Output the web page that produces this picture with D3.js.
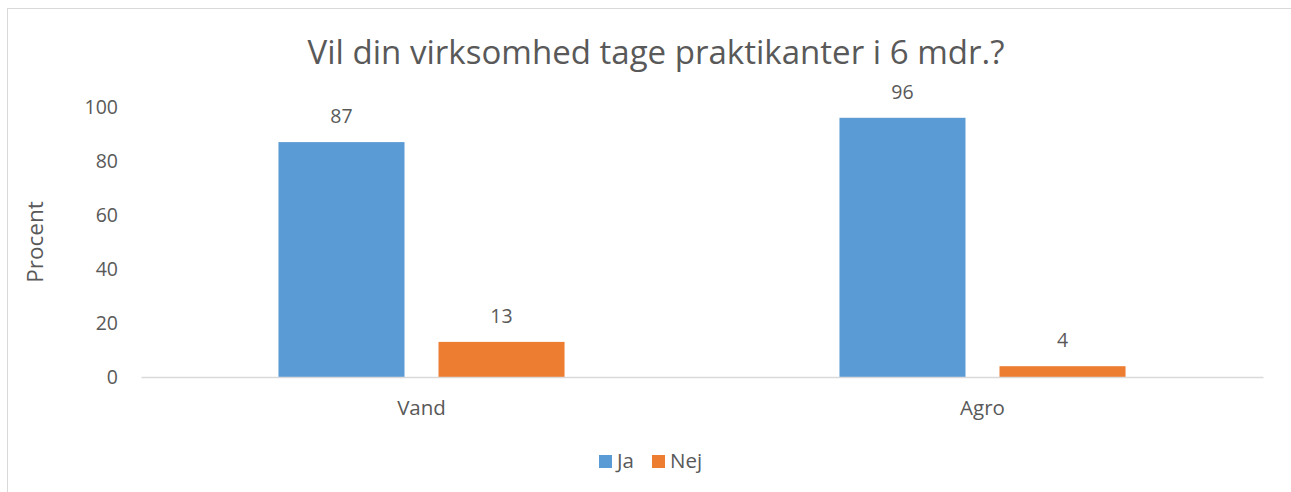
<!DOCTYPE html>
<html>
<head>
<meta charset="utf-8">
<script src="https://cdn.jsdelivr.net/npm/d3@7"></script>
<style>
  html, body { margin: 0; padding: 0; background: #fff; }
  svg { display: block; font-family: "Open Sans", "Noto Sans", sans-serif; }
</style>
</head>
<body>
<svg id="chart" width="1291" height="492"></svg>
<script>
const title = "Vil din virksomhed tage praktikanter i 6 mdr.?";
const yAxisTitle = "Procent";
const categories = ["Vand", "Agro"];
const seriesNames = ["Ja", "Nej"];
const jaValues = [87, 96];
const nejValues = [13, 4];
const yTicks = [0, 20, 40, 60, 80, 100];
const colors = ["#5B9BD5", "#ED7D31"];

const seriesValues = [jaValues, nejValues];
const svg = d3.select("#chart");
const textColor = "#595959";

// chart border
svg.append("rect").attr("x", 7.5).attr("y", 8.5).attr("width", 1400).attr("height", 600)
  .attr("fill", "none").attr("stroke", "#D9D9D9").attr("stroke-width", 1);

const y = d3.scaleLinear().domain([0, 100]).range([377, 107]);
const x0 = d3.scaleBand().domain(categories).range([141, 1263]).paddingInner(0).paddingOuter(0);
const x1 = d3.scaleBand().domain(seriesNames).range([0, x0.bandwidth()]).paddingInner(0.2125).paddingOuter(0.859);

// title
const t = svg.append("text").attr("x", 656).attr("y", 64).attr("text-anchor", "middle")
  .attr("fill", textColor).style("font-size", "30px").text(title);
const tw = t.node().getComputedTextLength();
t.style("font-size", (30 * 697 / tw).toFixed(2) + "px");

// y ticks
const yAxis = d3.axisLeft(y).tickValues(yTicks).tickSize(0).tickPadding(0);
const gy = svg.append("g").attr("transform", "translate(118,0)").call(yAxis);
gy.select(".domain").remove();
gy.selectAll("text").attr("fill", textColor).style("font-size", "19.5px")
  .style("font-family", "'Open Sans', sans-serif");

// y axis title
svg.append("text").attr("transform", "translate(35,242) rotate(-90)")
  .attr("text-anchor", "middle").attr("dy", "0.35em").attr("fill", textColor)
  .style("font-size", "22.5px").text(yAxisTitle);

// bars
const groups = svg.append("g").selectAll("g").data(categories).join("g")
  .attr("transform", d => `translate(${x0(d)},0)`);
groups.selectAll("rect").data((c, ci) => seriesNames.map((s, si) => ({ s, si, v: seriesValues[si][ci] })))
  .join("rect")
  .attr("x", d => x1(d.s)).attr("width", x1.bandwidth())
  .attr("y", d => y(d.v)).attr("height", d => y(0) - y(d.v))
  .attr("fill", d => colors[d.si]);

// data labels
groups.selectAll("text").data((c, ci) => seriesNames.map((s, si) => ({ s, si, v: seriesValues[si][ci] })))
  .join("text")
  .attr("x", d => x1(d.s) + x1.bandwidth() / 2).attr("y", d => y(d.v) - 19)
  .attr("text-anchor", "middle").attr("fill", textColor).style("font-size", "19.5px")
  .text(d => d.v);

// baseline + category axis
const xAxis = d3.axisBottom(x0).tickSize(0).tickPadding(0);
const gx = svg.append("g").attr("transform", `translate(0,${y(0)})`).call(xAxis);
gx.select(".domain").attr("stroke", "#D9D9D9").attr("stroke-width", 1.5);
gx.selectAll("text").attr("fill", textColor).style("font-size", "20.5px")
  .style("font-family", "'Open Sans', sans-serif").attr("dy", null).attr("y", 38);

// legend
const legend = svg.append("g");
const legendX = [599, 652];
seriesNames.forEach((s, i) => {
  legend.append("rect").attr("x", legendX[i]).attr("y", 455).attr("width", 13).attr("height", 13).attr("fill", colors[i]);
  legend.append("text").attr("x", legendX[i] + 18).attr("y", 468).attr("fill", textColor)
    .style("font-size", "20.5px").text(s);
});
</script>
</body>
</html>
